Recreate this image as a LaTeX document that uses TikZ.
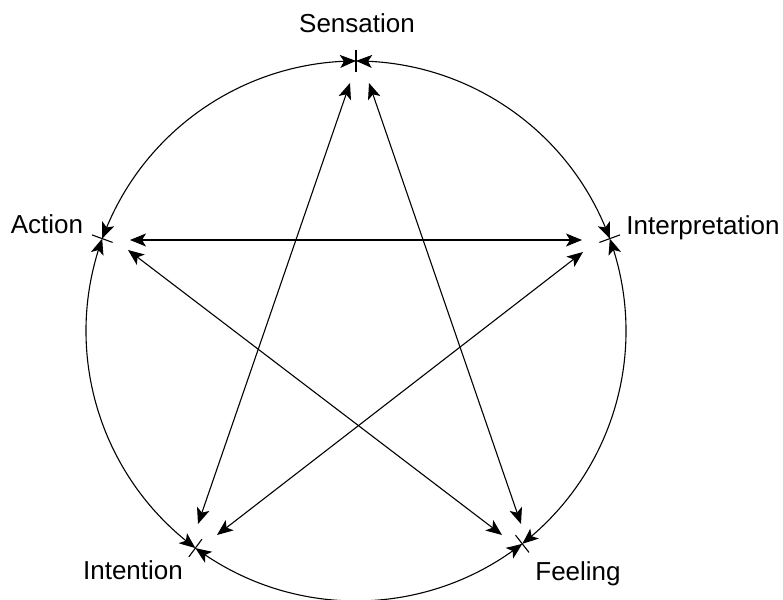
\documentclass[tikz,border=0pt]{standalone}
\usepackage{fontspec}
\setmainfont{Liberation Sans}
\usetikzlibrary{arrows.meta,bending}
\begin{document}
\begin{tikzpicture}[x=1pt,y=1pt,
  tipboth/.style={{Stealth[length=16pt,width=13pt,inset=4pt,bend]}-{Stealth[length=16pt,width=13pt,inset=4pt,bend]}},
  link/.style={line width=1.1pt, tipboth},
  tickmark/.style={line width=1.1pt},
  lbl/.style={font=\fontsize{26}{30}\selectfont, anchor=base, inner sep=0pt}]
\useasboundingbox (0,0) rectangle (783,599);
\coordinate (C) at (356,268);
\path (C) ++(90:270) coordinate (S);
\path (C) ++(20:270) coordinate (P);
\path (C) ++(-52:270) coordinate (F);
\path (C) ++(-126.5:270) coordinate (N);
\path (C) ++(160:270) coordinate (A);
% circle arcs
\draw[link] (S) arc[start angle=90, end angle=20, radius=270];
\draw[link] (P) arc[start angle=20, end angle=-52, radius=270];
\draw[link] (F) arc[start angle=-52, end angle=-126.5, radius=270];
\draw[link] (N) arc[start angle=-126.5, end angle=-200, radius=270];
\draw[link] (A) arc[start angle=160, end angle=90, radius=270];
% ticks
\draw[tickmark] (C) ++(90:259) -- ++(90:22);
\draw[tickmark] (C) ++(20:259) -- ++(20:22);
\draw[tickmark] (C) ++(-52:259) -- ++(-52:22);
\draw[tickmark] (C) ++(-126.5:259) -- ++(-126.5:22);
\draw[tickmark] (C) ++(160:259) -- ++(160:22);
% chord end points
\coordinate (sN) at (350,516);
\coordinate (nS) at (198,75);
\coordinate (sF) at (369,516);
\coordinate (fS) at (521,75);
\coordinate (aP) at (130,359);
\coordinate (pA) at (582,359);
\coordinate (aF) at (128,349);
\coordinate (fA) at (502,64);
\coordinate (pN) at (583,347);
\coordinate (nP) at (217,64);
\draw[link] (sN) -- (nS);
\draw[link] (sF) -- (fS);
\draw[link] (aP) -- (pA);
\draw[link] (aF) -- (fA);
\draw[link] (pN) -- (nP);
% labels
\node[lbl] (sens) at (357,566) {Sensation};
\node[lbl] (act) at (47,365) {Action};
\node[lbl] (interp) at (703,364) {Interpretation};
\node[lbl] (intent) at (133,20) {Intention};
\node[lbl] (feel) at (578,19) {Feeling};
\end{tikzpicture}
\end{document}
